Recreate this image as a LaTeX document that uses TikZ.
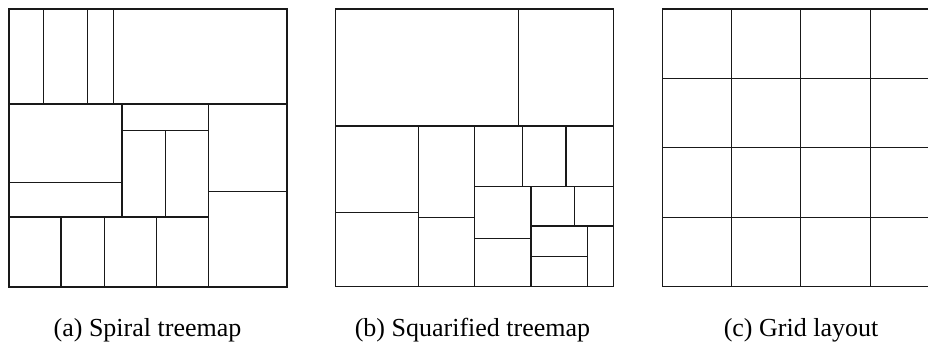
\documentclass[tikz,border=0pt]{standalone}
\usepackage{fontspec}
\setmainfont{Liberation Serif}
\usepackage{tikz}

\begin{document}
\begin{tikzpicture}[x=1pt, y=-1pt,
          cell/.style={draw=black!90, line width=1.1pt},
          caption/.style={anchor=base, inner sep=0pt, font=\fontsize{26}{31}\selectfont}
        ]
        \useasboundingbox (0,0) rectangle (928,342);
        \clip (0,0) rectangle (928,342);
        % (a) spiral treemap
        \draw[cell] (9,9) rectangle (287,287);
        \draw[cell] (9,104) -- (287,104);
        \foreach \x in {43.7, 87.3, 113.3}
          \draw[cell] (\x,9) -- (\x,104);
        \draw[cell] (122,104) -- (122,217);
        \draw[cell] (9,182.7) -- (122,182.7);
        \draw[cell] (9,217) -- (208.5,217);
        \draw[cell] (208.5,104) -- (208.5,287);
        \draw[cell] (122,130.3) -- (208.5,130.3);
        \draw[cell] (165.3,130.3) -- (165.3,217);
        \draw[cell] (208.5,191.3) -- (287,191.3);
        \foreach \x in {61, 104.7, 156.7}
          \draw[cell] (\x,217) -- (\x,287);
        \node[caption] (capa) at (147.5,336) {(a) Spiral treemap};
        % (b) squarified treemap
        \draw[cell] (335.7,9) rectangle (613.3,286.7);
        \draw[cell] (335.7,126) -- (613.3,126);
        \draw[cell] (518.3,9) -- (518.3,126);
        \draw[cell] (418.3,126) -- (418.3,286.7);
        \draw[cell] (335.7,212.7) -- (418.3,212.7);
        \draw[cell] (474.7,126) -- (474.7,286.7);
        \draw[cell] (418.3,217.3) -- (474.7,217.3);
        \draw[cell] (474.7,186.7) -- (613.3,186.7);
        \foreach \x in {522.3, 566}
          \draw[cell] (\x,126) -- (\x,186.7);
        \draw[cell] (531,186.7) -- (531,286.7);
        \draw[cell] (474.7,238.7) -- (531,238.7);
        \draw[cell] (531,226) -- (613.3,226);
        \draw[cell] (574.7,186.7) -- (574.7,226);
        \draw[cell] (587.7,226) -- (587.7,286.7);
        \draw[cell] (531,256.3) -- (587.7,256.3);
        \node[caption] (capb) at (472.5,336) {(b) Squarified treemap};
        % (c) grid layout
        \foreach \i in {0,...,4} {
          \draw[cell] (662.3+69.3*\i,9) -- (662.3+69.3*\i,286.7);
          \draw[cell] (662.3,9+69.4*\i) -- (939.5,9+69.4*\i);
        }
        \node[caption] (capc) at (801,336) {(c) Grid layout};
\end{tikzpicture}
\end{document}
